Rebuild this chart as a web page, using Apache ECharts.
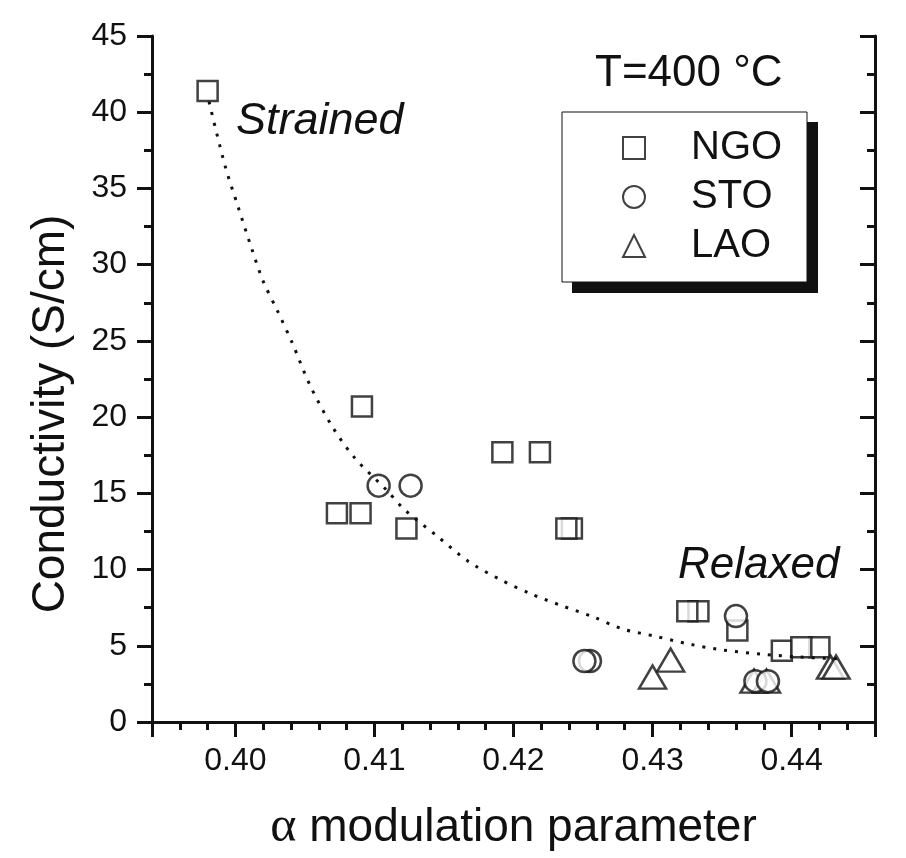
<!DOCTYPE html>
<html>
<head>
<meta charset="utf-8">
<title>Conductivity vs modulation parameter</title>
<script src="https://cdn.jsdelivr.net/npm/echarts@6.0.0/dist/echarts.min.js"></script>
<style>
html, body { margin: 0; padding: 0; background: #fff; }
#chart { width: 906px; height: 858px; }
</style>
</head>
<body>
<div id="chart"></div>
<script>
// values (T = 400 C)
var ngoX = [0.3980, 0.4091, 0.4073, 0.4090, 0.4123, 0.4192, 0.4219, 0.4242, 0.4238, 0.4333, 0.4325, 0.4361, 0.4393, 0.4420, 0.4407];
var ngoY = [41.4, 20.7, 13.7, 13.7, 12.7, 17.7, 17.7, 12.7, 12.7, 7.27, 7.27, 6.0, 4.68, 4.91, 4.91];

var stoX = [0.4103, 0.4126, 0.4360, 0.4255, 0.4251, 0.4374, 0.4383];
var stoY = [15.5, 15.5, 6.95, 4.0, 4.0, 2.68, 2.68];

var laoX = [0.4313, 0.4300, 0.4373, 0.4382, 0.4428, 0.4432];
var laoY = [4.06, 2.95, 2.68, 2.68, 3.6, 3.6];

// dotted guide curve
var fitX = [0.3981, 0.39925, 0.40019, 0.40119, 0.40198, 0.40306, 0.40407, 0.40536, 0.40695, 0.4086,
            0.41083, 0.4122, 0.4145, 0.41673, 0.41903, 0.42126, 0.42356, 0.42572, 0.42787, 0.43032,
            0.43269, 0.43507, 0.43787, 0.44061, 0.44384];
var fitY = [40.7, 36.5, 33.8, 31.0, 28.95, 26.9, 24.9, 22.1, 19.4, 17.3,
            15.25, 13.9, 12.2, 10.55, 9.35, 8.4, 7.6, 6.9, 6.1, 5.6,
            5.1, 4.72, 4.45, 4.26, 4.13];

var legendNames = ['NGO', 'STO', 'LAO'];

function pairs(xs, ys) {
    var out = [];
    for (var i = 0; i < xs.length; i++) out.push([xs[i], ys[i]]);
    return out;
}

var ink = '#111111';
var sans = '"Liberation Sans", Arial, sans-serif';

function xAxisOf(pos) {
    var bottom = pos === 'bottom';
    return {
        type: 'value',
        position: pos,
        min: 0.394,
        max: 0.446,
        name: bottom ? '{a|\u03b1} modulation parameter' : '',
        nameLocation: 'middle',
        nameGap: 81,
        nameTextStyle: {
            fontFamily: sans, fontSize: 46, color: ink,
            rich: { a: { fontFamily: '"Liberation Serif", serif', fontSize: 50, color: ink } }
        },
        axisLine: { lineStyle: { color: ink, width: 3 } },
        axisTick: { show: true, inside: !bottom, length: 15, lineStyle: { color: ink, width: 3 } },
        minorTick: { show: true, splitNumber: 5, length: 8, lineStyle: { color: ink, width: 3 } },
        axisLabel: {
            show: bottom, fontFamily: sans, fontSize: 32, color: ink, margin: 23,
            showMinLabel: false, showMaxLabel: false,
            formatter: function (v) { return v.toFixed(2); }
        },
        splitLine: { show: false }
    };
}

function yAxisOf(pos) {
    var left = pos === 'left';
    return {
        type: 'value',
        position: pos,
        min: 0,
        max: 45,
        interval: 5,
        name: left ? 'Conductivity (S/cm)' : '',
        nameLocation: 'middle',
        nameGap: 78,
        // right padding pushes the rotated title down, as in the original
        nameTextStyle: { fontFamily: sans, fontSize: 46, color: ink, padding: [0, 70, 0, 0] },
        axisLine: { lineStyle: { color: ink, width: 3 } },
        axisTick: { show: true, inside: !left, length: 15, lineStyle: { color: ink, width: 3 } },
        minorTick: { show: true, splitNumber: 2, length: 8, lineStyle: { color: ink, width: 3 } },
        axisLabel: { show: left, fontFamily: sans, fontSize: 32, color: ink, margin: 25 },
        splitLine: { show: false }
    };
}

var hollow = { color: '#ffffff', borderColor: ink, borderWidth: 2.5 };

var chart = echarts.init(document.getElementById('chart'));
var option = {
    backgroundColor: '#ffffff',
    animation: false,
    grid: { left: 152, right: 31, top: 36, bottom: 135, containLabel: false },
    xAxis: [xAxisOf('bottom'), xAxisOf('top')],
    yAxis: [yAxisOf('left'), yAxisOf('right')],
    legend: {
        data: legendNames,
        orient: 'vertical',
        left: 622,
        top: 128,
        padding: 0,
        itemWidth: 22,
        itemHeight: 22,
        itemGap: 9,
        z: 10,
        textStyle: { fontFamily: sans, fontSize: 40, color: ink, lineHeight: 39, padding: [0, 0, 0, 41] }
    },
    graphic: [
        { type: 'rect', z: 5, shape: { x: 572, y: 122, width: 246, height: 171 }, style: { fill: ink } },
        { type: 'rect', z: 6, shape: { x: 562, y: 112, width: 245, height: 170 }, style: { fill: '#ffffff', stroke: ink, lineWidth: 1 } },
        { type: 'text', z: 6, style: { x: 236, y: 121, text: 'Strained', font: 'italic 45px ' + sans, fill: ink, verticalAlign: 'middle' } },
        { type: 'text', z: 6, style: { x: 678, y: 566, text: 'Relaxed', font: 'italic 44px ' + sans, fill: ink, verticalAlign: 'middle' } },
        { type: 'text', z: 6, style: { x: 595, y: 74, text: 'T=400 \u00b0C', font: '44px ' + sans, fill: ink, verticalAlign: 'middle' } }
    ],
    series: [
        {
            name: 'NGO', type: 'scatter', symbol: 'rect', symbolSize: 20,
            itemStyle: hollow, data: pairs(ngoX, ngoY), z: 2
        },
        {
            name: 'LAO', type: 'scatter', symbol: 'triangle', symbolSize: [27, 23],
            itemStyle: hollow, data: pairs(laoX, laoY), z: 3
        },
        {
            name: 'STO', type: 'scatter', symbol: 'circle', symbolSize: 22,
            itemStyle: hollow, data: pairs(stoX, stoY), z: 4
        },
        {
            name: 'fit', type: 'line', smooth: 0.3, showSymbol: false, z: 5,
            lineStyle: { color: ink, width: 3, type: [3, 8] },
            data: pairs(fitX, fitY)
        }
    ]
};
chart.setOption(option);
</script>
</body>
</html>
